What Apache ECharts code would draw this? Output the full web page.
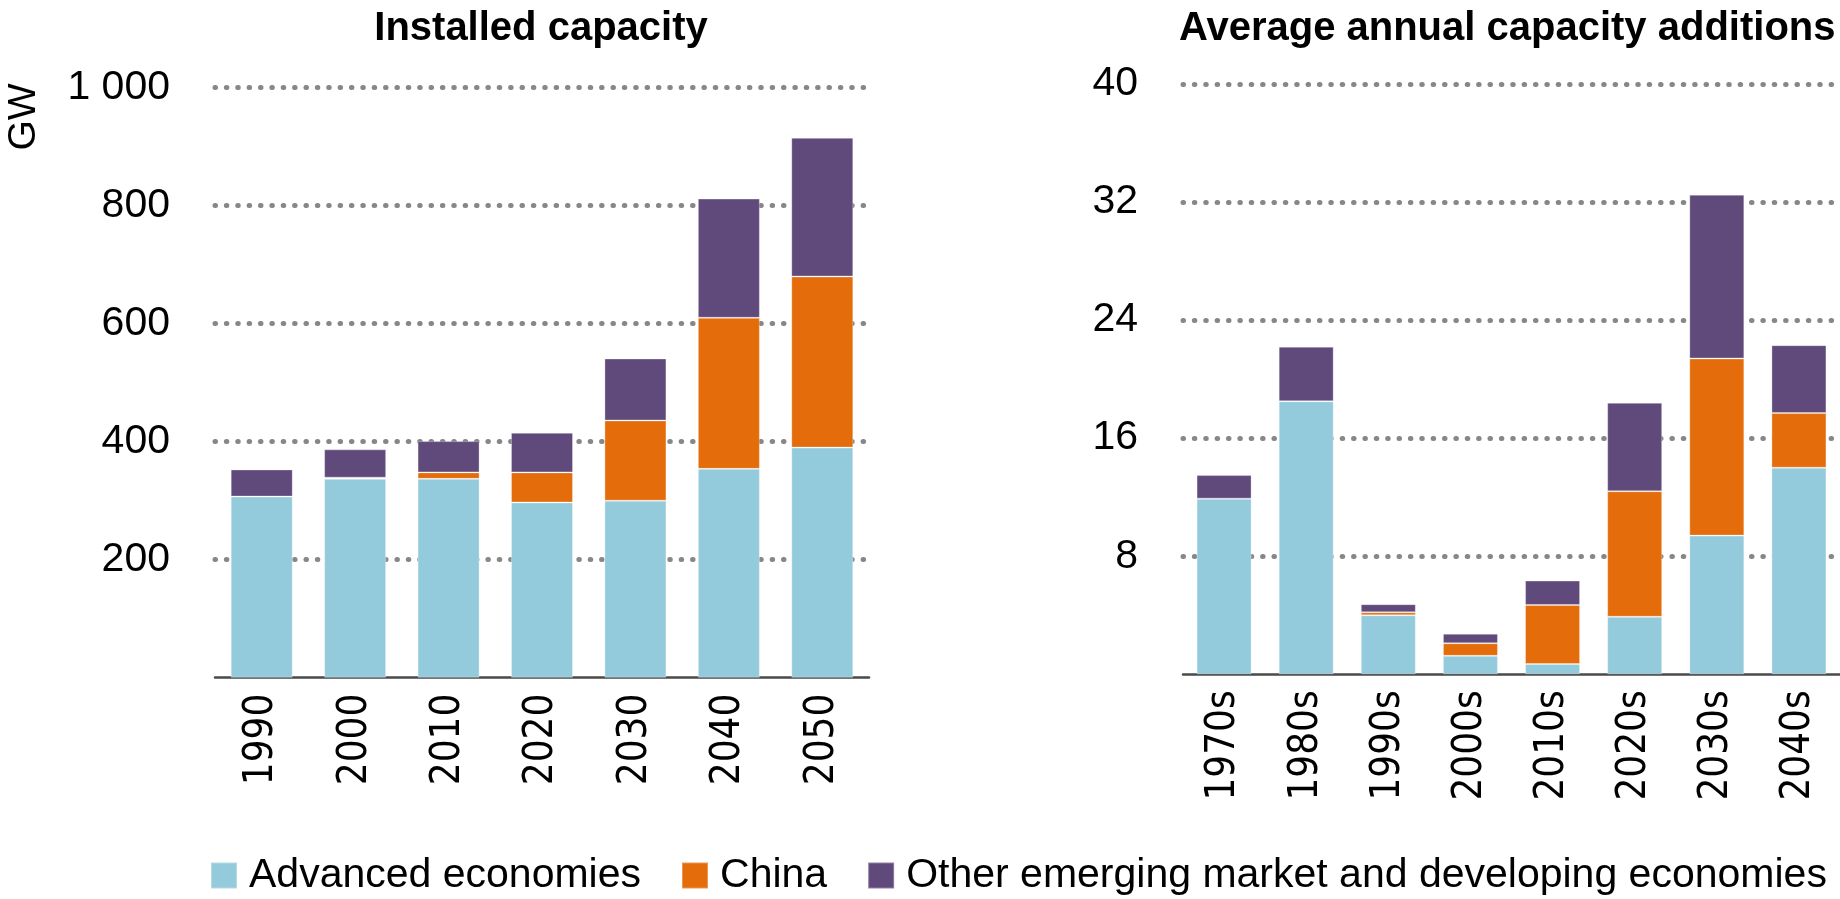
<!DOCTYPE html>
<html>
<head>
<meta charset="utf-8">
<script src="https://cdn.jsdelivr.net/npm/echarts@6/dist/echarts.min.js"></script>
<style>
  html, body { margin: 0; padding: 0; background: #fff; }
  #chart { width: 1840px; height: 899px; }
</style>
</head>
<body>
<div id="chart"></div>
<script>
// installed capacity, GW
const years = ['1990', '2000', '2010', '2020', '2030', '2040', '2050'];
const installedAdvanced = [307, 337, 337, 297, 300, 354, 390];
const installedChina = [0, 2, 11, 51, 136, 256, 290];
const installedOther = [46, 48, 53, 67, 105, 202, 235];
const installedTicks = [0, 200, 400, 600, 800, 1000];

// average annual capacity additions, GW
const decades = ['1970s', '1980s', '1990s', '2000s', '2010s', '2020s', '2030s', '2040s'];
const additionsAdvanced = [11.9, 18.5, 4.0, 1.25, 0.7, 3.9, 9.4, 14.0];
const additionsChina = [0, 0, 0.2, 0.85, 4.0, 8.5, 12.0, 3.7];
const additionsOther = [1.6, 3.7, 0.55, 0.65, 1.65, 6.0, 11.1, 4.6];
const additionsTicks = [0, 8, 16, 24, 32, 40];

const seriesNames = ['Advanced economies', 'China', 'Other emerging market and developing economies'];
const colors = ['#94CBDC', '#E46C0A', '#604A7B'];

const chart = echarts.init(document.getElementById('chart'));

const labelFont = 'Liberation Sans, Arial, sans-serif';
const catFont = 'DejaVu Sans Condensed, DejaVu Sans, sans-serif';

function valueAxis(gridIndex, ticks, fmt) {
    return {
        type: 'value',
        gridIndex: gridIndex,
        min: ticks[0],
        max: ticks[ticks.length - 1],
        interval: ticks[1] - ticks[0],
        axisLine: { show: false },
        axisTick: { show: false },
        axisLabel: {
            showMinLabel: false,
            margin: 45,
            color: '#000',
            fontSize: 41,
            fontFamily: labelFont,
            formatter: fmt
        },
        splitLine: {
            showMinLine: false,
            lineStyle: { color: '#878787', width: 5, type: [0.5, 10.87], cap: 'round' }
        }
    };
}

function catAxis(gridIndex, cats) {
    return {
        type: 'category',
        gridIndex: gridIndex,
        data: cats,
        axisLine: { lineStyle: { color: '#4a4a4a', width: 2.5 } },
        axisTick: { show: false },
        axisLabel: {
            rotate: 90,
            margin: 16,
            color: '#000',
            fontSize: 40,
            fontFamily: catFont
        }
    };
}

function bars(axisIndex, stack, values, i, width) {
    return {
        name: seriesNames[i],
        type: 'bar',
        stack: stack,
        xAxisIndex: axisIndex,
        yAxisIndex: axisIndex,
        barWidth: width,
        data: values,
        itemStyle: { color: colors[i], borderColor: 'rgba(255,255,255,0.3)', borderWidth: 1 }
    };
}

const option = {
    backgroundColor: '#FFFFFF',
    animation: false,
    color: colors,
    title: [
        {
            text: 'Installed capacity',
            left: 536,
            textAlign: 'center',
            top: 4,
            textStyle: { fontSize: 40, fontWeight: 'bold', color: '#000', fontFamily: labelFont }
        },
        {
            text: 'Average annual capacity additions',
            left: 1174,
            top: 4,
            textStyle: { fontSize: 40, fontWeight: 'bold', color: '#000', fontFamily: labelFont }
        }
    ],
    legend: {
        data: seriesNames,
        left: 205,
        top: 850,
        width: 2400,
        icon: 'rect',
        itemWidth: 26,
        itemHeight: 26,
        itemGap: 40,
        textStyle: { fontSize: 41, color: '#000', fontFamily: labelFont, padding: [0, 0, 0, 7] }
    },
    graphic: [
        {
            type: 'text',
            x: 24,
            y: 117,
            rotation: Math.PI / 2,
            style: {
                text: 'GW',
                fontSize: 39,
                fontFamily: labelFont,
                fill: '#000',
                align: 'center',
                verticalAlign: 'middle'
            }
        }
    ],
    grid: [
        { left: 215, top: 87.7, width: 654, height: 590 },
        { left: 1183, top: 84, width: 660, height: 590.3 }
    ],
    xAxis: [catAxis(0, years), catAxis(1, decades)],
    yAxis: [
        valueAxis(0, installedTicks, function (v) { return v >= 1000 ? '1 000' : String(v); }),
        valueAxis(1, additionsTicks, function (v) { return String(v); })
    ],
    series: [
        bars(0, 'installed', installedAdvanced, 0, 62),
        bars(0, 'installed', installedChina, 1, 62),
        bars(0, 'installed', installedOther, 2, 62),
        bars(1, 'additions', additionsAdvanced, 0, 55),
        bars(1, 'additions', additionsChina, 1, 55),
        bars(1, 'additions', additionsOther, 2, 55)
    ]
};

chart.setOption(option);
</script>
</body>
</html>
